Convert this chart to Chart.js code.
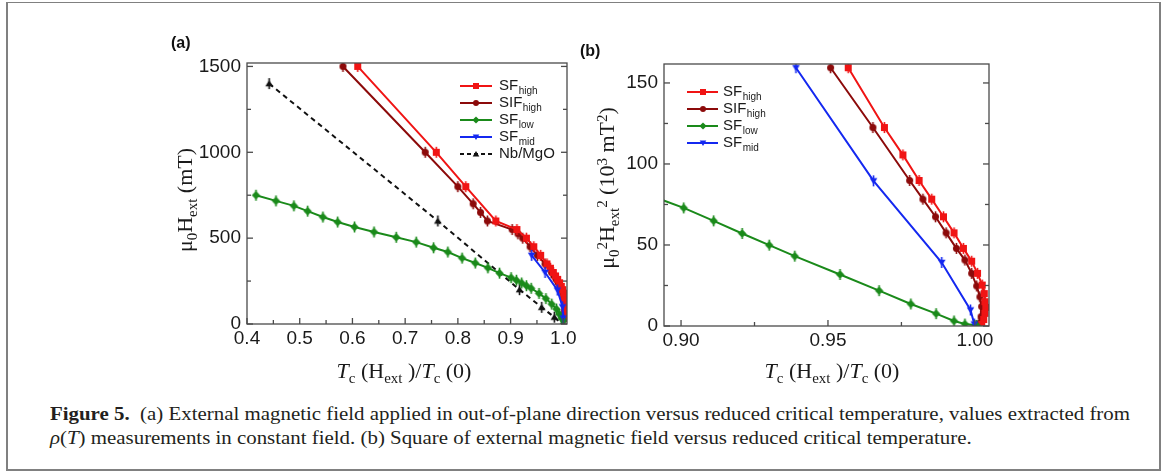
<!DOCTYPE html>
<html>
<head>
<meta charset="utf-8">
<script src="https://cdn.jsdelivr.net/npm/chart.js@4.4.0/dist/chart.umd.min.js"></script>
<style>
  html, body { margin: 0; padding: 0; background: #fff; }
  body { width: 1174px; height: 474px; position: relative; overflow: hidden; }
  #frame {
    position: absolute; left: 6px; top: 2px; width: 1151px; height: 466px;
    border-top: 1px solid #808080; border-left: 2px solid #808080;
    border-right: 2px solid #808080; border-bottom: 2px solid #808080;
  }
  canvas { position: absolute; }
  #chartA { left: 150px; top: 40px; }
  #chartB { left: 570px; top: 40px; }
  .lbl { position: absolute; font: bold 16px "Liberation Sans", Arial, sans-serif; line-height: 1; color: #111; }
  .ttl {
    position: absolute; transform: translate(-50%, -50%); white-space: nowrap;
    font: 22px "Liberation Serif", "Times New Roman", serif; line-height: 1; color: #1a1a1a;
  }
  .ttl.rot { transform: translate(-50%, -50%) rotate(-90deg); }
  .ttl sub { font-size: 0.68em; vertical-align: -0.32em; line-height: 0; }
  .ttl sup { font-size: 0.68em; vertical-align: 0.5em; line-height: 0; }
  #cap { position: absolute; left: 50px; top: 402px; font: 18px "Liberation Serif", "Times New Roman", serif; line-height: 24px; color: #231f20; }
  .cl { display: inline-block; white-space: nowrap; transform-origin: 0 0; }
</style>
</head>
<body>
<div id="frame"></div>
<canvas id="chartA" width="430" height="320"></canvas>
<canvas id="chartB" width="430" height="320"></canvas>

<div class="lbl" style="left:171px;top:35px">(a)</div>
<div class="lbl" style="left:580px;top:43px">(b)</div>

<div class="ttl rot" style="left:185px;top:200px">μ<sub>0</sub>H<sub>ext</sub> (mT)</div>
<div class="ttl" style="left:404px;top:371px"><i>T</i><sub>c</sub> (H<sub>ext</sub> )/<i>T</i><sub>c</sub> (0)</div>
<div class="ttl rot" style="left:607px;top:188px">μ<sub>0</sub><sup>2</sup>H<sub>ext</sub><sup>2</sup> (10<sup>3</sup> mT<sup>2</sup>)</div>
<div class="ttl" style="left:832px;top:371px"><i>T</i><sub>c</sub> (H<sub>ext</sub> )/<i>T</i><sub>c</sub> (0)</div>

<div id="cap">
  <div><span class="cl" id="cl1"><b>Figure 5.</b>&nbsp;&nbsp;(a) External magnetic field applied in out-of-plane direction versus reduced critical temperature, values extracted from</span></div>
  <div><span class="cl" id="cl2"><i>ρ</i>(<i>T</i>) measurements in constant field. (b) Square of external magnetic field versus reduced critical temperature.</span></div>
</div>

<script>
// --- (a) field vs reduced Tc, mT ---
const sfHighA_T = [0.610, 0.759, 0.815, 0.872, 0.912, 0.930, 0.944, 0.957, 0.969, 0.9755, 0.981, 0.9853, 0.9893, 0.9929, 0.9961, 0.9989, 1.0009, 1.0025, 1.0032, 1.0034, 1.0037, 1.0034, 1.0030, 1.0023];
const sfHighA_H = [1500, 1000, 800, 600, 550, 500, 450, 400, 350, 325, 300, 280, 260, 240, 219, 200, 180, 159, 141, 122, 107, 88, 63, 32];

const sifHighA_T = [0.582, 0.738, 0.800, 0.829, 0.843, 0.856, 0.903, 0.914, 0.923, 0.937, 0.951, 0.9653, 0.9778, 0.9823, 0.9866, 0.9902, 0.9937, 0.9966, 0.9989, 1.0006, 1.0017, 1.0023, 1.0021, 1.0014];
const sifHighA_H = [1500, 1000, 800, 700, 650, 600, 550, 525, 500, 450, 400, 350, 300, 280, 260, 240, 219, 202, 180, 157, 134, 110, 76, 40];

const sfLowA_T = [0.417, 0.455, 0.489, 0.515, 0.544, 0.572, 0.604, 0.641, 0.683, 0.721, 0.754, 0.781, 0.808, 0.833, 0.857, 0.879, 0.901, 0.911, 0.921, 0.930, 0.939, 0.954, 0.967, 0.978, 0.987, 0.993, 0.9966, 1.0006];
const sfLowA_H = [750, 717, 688, 657, 623, 594, 565, 536, 505, 477, 444, 419, 384, 355, 327, 296, 270, 255, 239, 223, 208, 178, 148, 116, 87, 56, 35, 20];

const sfMidA_T = [0.940, 0.9655, 0.9887, 0.9985, 0.9998];
const sfMidA_H = [400, 300, 198, 100, 35];

const nbA_T = [0.442, 0.762, 0.917, 0.959, 0.983, 0.998];
const nbA_H = [1400, 600, 200, 97, 40, 0];

// --- (b) squared field, 10^3 mT^2 ---
const sfHighB_T = [0.9569, 0.9692, 0.9755, 0.9810, 0.9853, 0.9893, 0.9929, 0.9961, 0.9989, 1.0009, 1.0025, 1.0032, 1.0034, 1.0037, 1.0034, 1.0030, 1.0023];
const sfHighB_H2 = [159.4, 122.5, 105.6, 89.8, 78.3, 67.4, 57.5, 47.9, 40.0, 32.5, 25.3, 20.0, 15.0, 11.5, 7.8, 4.0, 1.0];

const sifHighB_T = [0.9509, 0.9653, 0.9778, 0.9823, 0.9866, 0.9902, 0.9937, 0.9966, 0.9989, 1.0006, 1.0017, 1.0023, 1.0021, 1.0014];
const sifHighB_H2 = [159.4, 122.5, 89.8, 78.3, 67.4, 57.5, 47.9, 40.7, 32.5, 24.7, 18.0, 12.0, 5.8, 1.6];

const sfLowB_T = [0.879, 0.9009, 0.9111, 0.9208, 0.9300, 0.9387, 0.9541, 0.9674, 0.9782, 0.9868, 0.9929, 0.9966, 1.0006];
const sfLowB_H2 = [87.6, 72.9, 64.9, 57.1, 49.9, 43.1, 31.8, 21.8, 13.6, 7.6, 3.1, 1.2, 0.4];

const sfMidB_T = [0.9391, 0.9655, 0.9887, 0.9985, 0.9998];
const sfMidB_H2 = [159.4, 89.6, 39.2, 9.9, 1.2];

// tick values
const xTicksA = [0.4, 0.5, 0.6, 0.7, 0.8, 0.9, 1.0];
const xMinorA = [0.45, 0.55, 0.65, 0.75, 0.85, 0.95];
const yTicksA = [0, 500, 1000, 1500];
const yMinorA = [250, 750, 1250];
const xTicksB = [0.90, 0.95, 1.00];
const xMinorB = [0.925, 0.975];
const yTicksB = [0, 50, 100, 150];
const yMinorB = [25, 75, 125];

const names = [["SF", "high"], ["SIF", "high"], ["SF", "low"], ["SF", "mid"], ["Nb/MgO", ""]];
const colors = ["#f01414", "#8c0a0a", "#1a8a1a", "#1428f0", "#111111"];

// small canvas markers (with a vertical error bar for the data points)
function marker(shape, color, size, bar) {
  const pad = 2;
  const w = size + pad * 2 + 2, h = Math.max(size + 2, bar || 0) + pad * 2;
  const c = document.createElement("canvas");
  c.width = w; c.height = h;
  const g = c.getContext("2d");
  const cx = w / 2, cy = h / 2, r = size / 2;
  g.fillStyle = color; g.strokeStyle = color;
  if (bar) {
    g.lineWidth = 1.6;
    g.beginPath(); g.moveTo(cx, cy - bar / 2); g.lineTo(cx, cy + bar / 2); g.stroke();
  }
  g.beginPath();
  if (shape === "square") g.rect(cx - r, cy - r, size, size);
  else if (shape === "circle") g.arc(cx, cy, r, 0, Math.PI * 2);
  else if (shape === "diamond") {
    g.moveTo(cx, cy - r * 1.2); g.lineTo(cx + r * 1.2, cy); g.lineTo(cx, cy + r * 1.2); g.lineTo(cx - r * 1.2, cy); g.closePath();
  } else if (shape === "down") {
    g.moveTo(cx - r * 1.1, cy - r * 0.8); g.lineTo(cx + r * 1.1, cy - r * 0.8); g.lineTo(cx, cy + r); g.closePath();
  } else {
    g.moveTo(cx - r * 1.1, cy + r * 0.8); g.lineTo(cx + r * 1.1, cy + r * 0.8); g.lineTo(cx, cy - r); g.closePath();
  }
  g.fill();
  return c;
}

const shapes = ["square", "circle", "diamond", "down", "up"];
const pointMk = shapes.map((s, i) => marker(s, colors[i], 7, 11));
const legendMk = shapes.map((s, i) => marker(s, colors[i], 6, 0));

function series(i, xs, ys, extra) {
  return Object.assign({
    label: names[i].join(""),
    data: xs.map((v, k) => ({ x: v, y: ys[k] })),
    showLine: true,
    borderColor: colors[i],
    backgroundColor: colors[i],
    borderWidth: 2,
    pointStyle: pointMk[i],
    pointRadius: 4,
    pointHoverRadius: 4,
    tension: 0
  }, extra || {});
}

// box around the plot and inward tick marks on bottom, left and right
const frameTicks = {
  id: "frameTicks",
  afterDraw(chart, args, o) {
    const { ctx, chartArea: a } = chart;
    const x = chart.scales.x, y = chart.scales.y;
    ctx.save();
    ctx.strokeStyle = "#4a4a4a";
    ctx.lineWidth = 1.3;
    ctx.strokeRect(a.left, a.top, a.right - a.left, a.bottom - a.top);
    const seg = (x1, y1, x2, y2) => { ctx.beginPath(); ctx.moveTo(x1, y1); ctx.lineTo(x2, y2); ctx.stroke(); };
    o.xMajor.forEach(v => { const p = x.getPixelForValue(v); seg(p, a.bottom, p, a.bottom - 6); });
    o.xMinor.forEach(v => { const p = x.getPixelForValue(v); seg(p, a.bottom, p, a.bottom - 4); });
    o.yMajor.forEach(v => {
      const p = y.getPixelForValue(v);
      seg(a.left, p, a.left + 6, p); seg(a.right, p, a.right - 6, p);
    });
    o.yMinor.forEach(v => {
      const p = y.getPixelForValue(v);
      seg(a.left, p, a.left + 4, p); seg(a.right, p, a.right - 4, p);
    });
    ctx.restore();
  }
};

// legend: short line with marker, name with subscript
const legendBox = {
  id: "legendBox",
  afterDraw(chart, args, o) {
    const ctx = chart.ctx;
    ctx.save();
    o.items.forEach((i, row) => {
      const y = o.y + row * o.dy;
      ctx.strokeStyle = colors[i];
      ctx.lineWidth = 2;
      ctx.setLineDash(i === 4 ? [4, 3] : []);
      ctx.beginPath(); ctx.moveTo(o.x, y); ctx.lineTo(o.x + o.len, y); ctx.stroke();
      ctx.setLineDash([]);
      const m = legendMk[i];
      ctx.drawImage(m, Math.round(o.x + o.len / 2 - m.width / 2), Math.round(y - m.height / 2));
      ctx.fillStyle = "#1a1a1a";
      ctx.textBaseline = "middle";
      ctx.font = "15px 'Liberation Sans', Arial, sans-serif";
      const tx = o.x + o.len + o.gap;
      ctx.fillText(names[i][0], tx, y);
      const w = ctx.measureText(names[i][0]).width;
      ctx.font = "10px 'Liberation Sans', Arial, sans-serif";
      ctx.fillText(names[i][1], tx + w + 0.5, y + 5);
    });
    ctx.restore();
  }
};

const tickFont = { family: "'Liberation Sans', Arial, sans-serif", size: 19 };

function options(c) {
  return {
    responsive: false,
    animation: false,
    events: [],
    layout: { padding: c.pad },
    plugins: {
      legend: { display: false },
      tooltip: { enabled: false },
      frameTicks: { xMajor: c.xTicks, xMinor: c.xMinor, yMajor: c.yTicks, yMinor: c.yMinor },
      legendBox: c.legend
    },
    scales: {
      x: {
        type: "linear", min: c.xMin, max: c.xMax,
        grid: { display: false, drawTicks: false }, border: { display: false },
        ticks: { font: tickFont, color: "#1a1a1a", padding: 3, maxRotation: 0, callback: v => v.toFixed(c.xDec) },
        afterBuildTicks: s => { s.ticks = c.xTicks.map(v => ({ value: v })); },
        afterFit: s => { s.height = c.xh; }
      },
      y: {
        type: "linear", min: 0, max: c.yMax,
        grid: { display: false, drawTicks: false }, border: { display: false },
        ticks: { font: tickFont, color: "#1a1a1a", padding: 6, callback: v => String(v) },
        afterBuildTicks: s => { s.ticks = c.yTicks.map(v => ({ value: v })); },
        afterFit: s => { s.width = c.yw; }
      }
    }
  };
}

new Chart(document.getElementById("chartA"), {
  type: "scatter",
  data: {
    datasets: [
      series(3, sfMidA_T, sfMidA_H),
      series(2, sfLowA_T, sfLowA_H),
      series(0, sfHighA_T, sfHighA_H),
      series(1, sifHighA_T, sifHighA_H),
      series(4, nbA_T, nbA_H, { borderDash: [5, 4] })
    ]
  },
  options: options({
    pad: { left: 0, top: 23, right: 13, bottom: 0 },
    xMin: 0.4, xMax: 1.007, yMax: 1520, xDec: 1,
    xTicks: xTicksA, xMinor: xMinorA, yTicks: yTicksA, yMinor: yMinorA,
    xh: 36, yw: 97,
    legend: { x: 310, y: 46, dy: 17, len: 32, gap: 7, items: [0, 1, 2, 3, 4] }
  }),
  plugins: [frameTicks, legendBox]
});

new Chart(document.getElementById("chartB"), {
  type: "scatter",
  data: {
    datasets: [
      series(3, sfMidB_T, sfMidB_H2),
      series(2, sfLowB_T, sfLowB_H2),
      series(0, sfHighB_T, sfHighB_H2),
      series(1, sifHighB_T, sifHighB_H2)
    ]
  },
  options: options({
    pad: { left: 0, top: 24, right: 11, bottom: 0 },
    xMin: 0.8942, xMax: 1.0048, yMax: 161.7, xDec: 2,
    xTicks: xTicksB, xMinor: xMinorB, yTicks: yTicksB, yMinor: yMinorB,
    xh: 34, yw: 94,
    legend: { x: 117, y: 52, dy: 17, len: 31, gap: 5, items: [0, 1, 2, 3] }
  }),
  plugins: [frameTicks, legendBox]
});

// stretch the caption lines to the text block width
const cl1 = document.getElementById("cl1"), cl2 = document.getElementById("cl2");
const k = 1080 / cl1.getBoundingClientRect().width;
cl1.style.transform = cl2.style.transform = "scaleX(" + k.toFixed(4) + ")";
</script>
</body>
</html>
